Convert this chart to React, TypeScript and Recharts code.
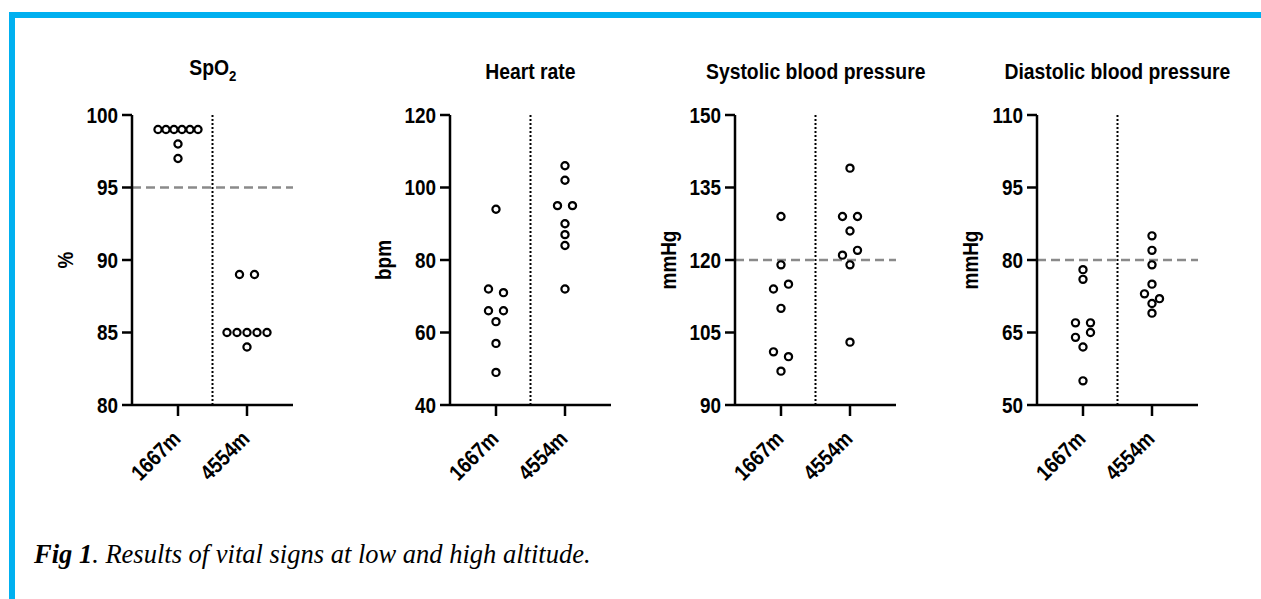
import React from 'react';
import { ScatterChart, Scatter, XAxis, YAxis, ReferenceLine } from 'recharts';

// ---------- data ----------
const groups = ['1667m', '4554m'];

const spo2Ticks = [80, 85, 90, 95, 100];
const spo2Low = [99, 99, 99, 99, 99, 99, 98, 97];
const spo2High = [89, 89, 85, 85, 85, 85, 85, 84];

const hrTicks = [40, 60, 80, 100, 120];
const hrLow = [94, 72, 71, 66, 66, 63, 57, 49];
const hrHigh = [106, 102, 95, 95, 90, 87, 84, 72];

const sbpTicks = [90, 105, 120, 135, 150];
const sbpLow = [129, 119, 114, 115, 110, 101, 100, 97];
const sbpHigh = [139, 129, 129, 126, 121, 122, 119, 103];

const dbpTicks = [50, 65, 80, 95, 110];
const dbpLow = [78, 76, 67, 67, 64, 65, 62, 55];
const dbpHigh = [85, 82, 79, 75, 73, 72, 71, 69];

const titles = ['SpO2', 'Heart rate', 'Systolic blood pressure', 'Diastolic blood pressure'];
const units = ['%', 'bpm', 'mmHg', 'mmHg'];
const cutoffs: (number | null)[] = [95, null, 120, 80];

// ---------- layout ----------
const FONT = '"Liberation Sans", Arial, Helvetica, sans-serif';
const FS = 22;
const SQUEEZE = 0.86;
const PLOT_TOP = 115;
const PLOT_H = 290;
const PLOT_W = 161;
const Y_AXIS_X = [132, 450, 735, 1037];
const X_MIN = 1 / 3;
const X_MAX = 8 / 3;
const PX_PER_X = PLOT_W / (X_MAX - X_MIN);

// Beeswarm-style spreading: points that are (almost) on the same row are laid side by side
function swarm(values: number[], center: number, ticks: number[]) {
  const lo = ticks[0];
  const hi = ticks[ticks.length - 1];
  const pxPerVal = PLOT_H / (hi - lo);
  const out: { x: number; y: number }[] = [];
  let i = 0;
  while (i < values.length) {
    let j = i + 1;
    while (j < values.length && Math.abs(values[j] - values[i]) * pxPerVal < 6) j++;
    const n = j - i;
    const step = n > 1 ? Math.min(15, 40 / (n - 1)) : 0;
    for (let k = i; k < j; k++) {
      const off = (k - i - (n - 1) / 2) * step;
      out.push({ x: center + off / PX_PER_X, y: values[k] });
    }
    i = j;
  }
  return out;
}

const panels = [
  { ticks: spo2Ticks, low: spo2Low, high: spo2High },
  { ticks: hrTicks, low: hrLow, high: hrHigh },
  { ticks: sbpTicks, low: sbpLow, high: sbpHigh },
  { ticks: dbpTicks, low: dbpLow, high: dbpHigh },
];

const Dot = (props: any) => {
  const { cx, cy } = props;
  if (cx == null || cy == null) return null;
  return <circle cx={cx} cy={cy} r={3.6} fill="none" stroke="#000" strokeWidth={2.2} />;
};

const XTick = (props: any) => {
  const { x, payload } = props;
  const label = groups[Math.round(payload.value) - 1];
  const ax = x + 4;
  const ay = PLOT_TOP + PLOT_H + 35;
  return (
    <text
      x={0}
      y={0}
      textAnchor="end"
      transform={`translate(${ax}, ${ay}) rotate(-45) scale(${SQUEEZE}, 1)`}
      fontFamily={FONT}
      fontWeight="bold"
      fontSize={FS}
      fill="#000"
    >
      {label}
    </text>
  );
};

const YTick = (props: any) => {
  const { x, y, payload } = props;
  return (
    <text
      x={0}
      y={0}
      dy="0.355em"
      textAnchor="end"
      transform={`translate(${x}, ${y}) scale(${SQUEEZE}, 1)`}
      fontFamily={FONT}
      fontWeight="bold"
      fontSize={FS}
      fill="#000"
    >
      {payload.value}
    </text>
  );
};

function Panel({ idx }: { idx: number }) {
  const p = panels[idx];
  const axisX = Y_AXIS_X[idx];
  const lo = p.ticks[0];
  const hi = p.ticks[p.ticks.length - 1];
  const lowData = swarm(p.low, 1, p.ticks);
  const highData = swarm(p.high, 2, p.ticks);
  const cut = cutoffs[idx];
  return (
    <div style={{ position: 'absolute', left: axisX - 100, top: 0 }}>
      <ScatterChart
        width={100 + PLOT_W + 20}
        height={PLOT_TOP + PLOT_H + 80}
        margin={{ top: PLOT_TOP, right: 20, bottom: 0, left: 40 }}
      >
        <XAxis
          type="number"
          dataKey="x"
          domain={[X_MIN, X_MAX]}
          ticks={[1, 2]}
          allowDataOverflow
          height={80}
          interval={0}
          axisLine={{ stroke: '#000', strokeWidth: 2.5 }}
          tickLine={{ stroke: '#000', strokeWidth: 2.5 }}
          tickSize={11}
          tick={<XTick />}
        />
        <YAxis
          type="number"
          dataKey="y"
          domain={[lo, hi]}
          ticks={p.ticks}
          allowDataOverflow
          width={60}
          interval={0}
          axisLine={{ stroke: '#000', strokeWidth: 2.5 }}
          tickLine={{ stroke: '#000', strokeWidth: 2.5 }}
          tickSize={10}
          tickMargin={4}
          tick={<YTick />}
        />
        {cut != null && (
          <ReferenceLine y={cut} stroke="#8a8a8a" strokeWidth={2.5} strokeDasharray="9 5" />
        )}
        <ReferenceLine x={1.5} stroke="#000" strokeWidth={2} strokeDasharray="2 2" />
        <Scatter data={lowData} shape={Dot} isAnimationActive={false} />
        <Scatter data={highData} shape={Dot} isAnimationActive={false} />
      </ScatterChart>
    </div>
  );
}

export default function App() {
  return (
    <div
      style={{
        position: 'absolute',
        left: 0,
        top: 0,
        width: 1261,
        height: 599,
        background: '#fff',
        overflow: 'hidden',
        fontFamily: FONT,
      }}
    >
      {/* blue frame */}
      <div style={{ position: 'absolute', left: 9, top: 12, width: 1252, height: 6, background: '#00B0F0' }} />
      <div style={{ position: 'absolute', left: 9, top: 12, width: 6, height: 587, background: '#00B0F0' }} />

      {panels.map((_, i) => (
        <Panel key={i} idx={i} />
      ))}

      {/* titles */}
      {titles.map((t, i) => (
        <div
          key={t}
          style={{
            position: 'absolute',
            left: Y_AXIS_X[i] + PLOT_W / 2 - 150,
            width: 300,
            top: i === 0 ? 55 : 59,
            textAlign: 'center',
            fontSize: FS,
            fontWeight: 'bold',
            lineHeight: '26px',
            color: '#000',
          }}
        >
          <span style={{ display: 'inline-block', transform: `scaleX(${SQUEEZE + 0.02})` }}>
            {i === 0 ? (
              <>
                SpO<sub style={{ fontSize: 15, verticalAlign: -6, lineHeight: 0 }}>2</sub>
              </>
            ) : (
              t
            )}
          </span>
        </div>
      ))}

      {/* y-axis unit labels */}
      {units.map((u, i) => (
        <div
          key={i}
          style={{
            position: 'absolute',
            left: Y_AXIS_X[i] - 66 - 50,
            top: PLOT_TOP + PLOT_H / 2 - 13,
            width: 100,
            height: 26,
            lineHeight: '26px',
            textAlign: 'center',
            fontSize: FS,
            fontWeight: 'bold',
            color: '#000',
            transform: `rotate(-90deg) scaleX(${SQUEEZE})`,
          }}
        >
          {u}
        </div>
      ))}

      {/* caption */}
      <div
        style={{
          position: 'absolute',
          left: 34,
          top: 539,
          fontFamily: '"Liberation Serif", "Times New Roman", serif',
          fontStyle: 'italic',
          fontSize: 26.5,
          lineHeight: '30px',
          color: '#000',
          whiteSpace: 'nowrap',
        }}
      >
        <b>Fig 1</b>. Results of vital signs at low and high altitude.
      </div>
    </div>
  );
}
